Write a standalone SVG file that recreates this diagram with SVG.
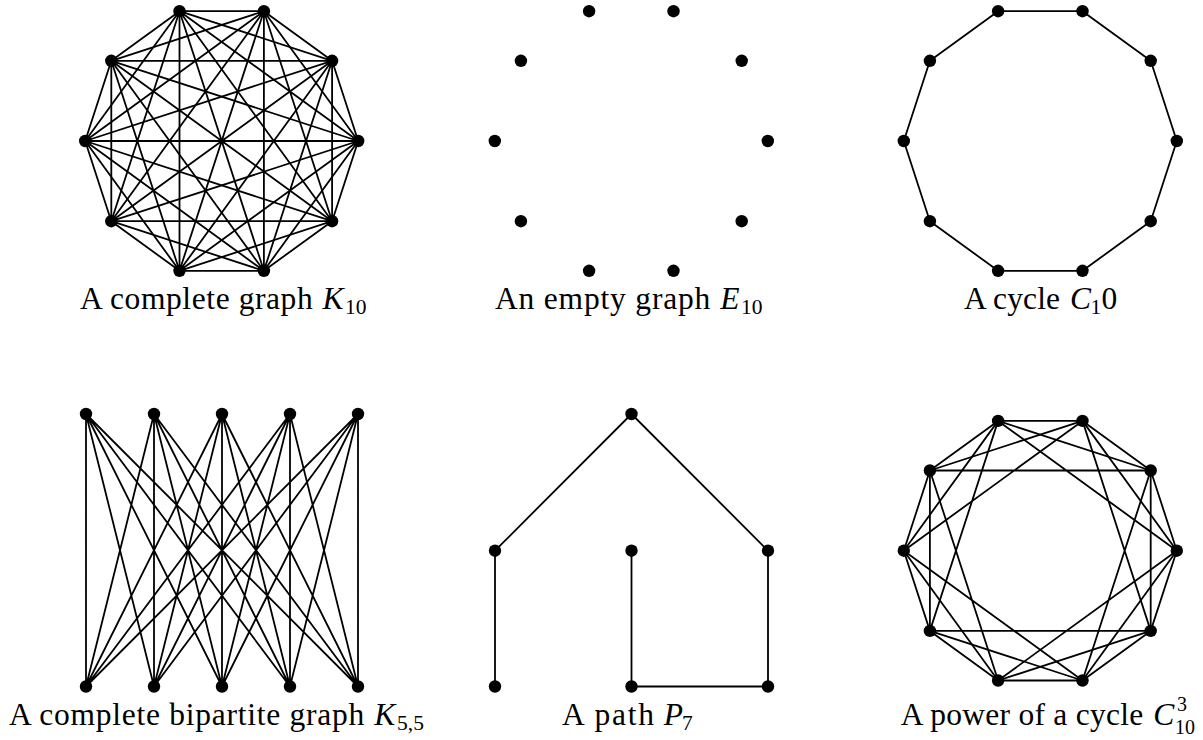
<svg xmlns="http://www.w3.org/2000/svg" width="1203" height="740" viewBox="0 0 1203 740">
<style>
.e{fill:none;stroke:#000;stroke-width:1.8;stroke-linejoin:round}
.n{fill:#000}
text{font-family:'Liberation Serif','DejaVu Serif','Noto Serif',serif;fill:#000}
.t{font-size:31.5px}
.i{font-size:31.5px;font-style:italic}
.s{font-size:21.5px}
.u{font-size:20px}
</style>
<rect width="1203" height="740" fill="#fff"/>
<g id="connectors">
<g id="k10-edges">
<polygon class="e" points="358.2,141 332.1,60.8 263.9,11.2 179.5,11.2 111.3,60.8 85.2,141 111.3,221.2 179.5,270.8 263.9,270.8 332.1,221.2"/>
<polygon class="e" points="358.2,141 263.9,11.2 111.3,60.8 111.3,221.2 263.9,270.8"/>
<polygon class="e" points="332.1,60.8 179.5,11.2 85.2,141 179.5,270.8 332.1,221.2"/>
<polygon class="e" points="358.2,141 179.5,11.2 111.3,221.2 332.1,221.2 263.9,11.2 85.2,141 263.9,270.8 332.1,60.8 111.3,60.8 179.5,270.8"/>
<polygon class="e" points="358.2,141 111.3,60.8 263.9,270.8 263.9,11.2 111.3,221.2"/>
<polygon class="e" points="332.1,60.8 85.2,141 332.1,221.2 179.5,11.2 179.5,270.8"/>
<path class="e" d="M358.2,141 L85.2,141 M332.1,60.8 L111.3,221.2 M263.9,11.2 L179.5,270.8 M179.5,11.2 L263.9,270.8 M111.3,60.8 L332.1,221.2"/>
</g>
<g id="c10-edges">
<polygon class="e" points="1176.8,141 1150.7,60.8 1082.5,11.2 998.1,11.2 929.9,60.8 903.8,141 929.9,221.2 998.1,270.8 1082.5,270.8 1150.7,221.2"/>
</g>
<g id="k55-edges">
<path class="e" d="M86,686.5 L86,414 L154,686.5 M222,686.5 L86,414 L290,686.5 M358,686.5 L86,414
M86,686.5 L154,414 L154,686.5 M222,686.5 L154,414 L290,686.5 M358,686.5 L154,414
M86,686.5 L222,414 L154,686.5 M222,686.5 L222,414 L290,686.5 M358,686.5 L222,414
M86,686.5 L290,414 L154,686.5 M222,686.5 L290,414 L290,686.5 M358,686.5 L290,414
M86,686.5 L358,414 L154,686.5 M222,686.5 L358,414 L290,686.5 M358,686.5 L358,414"/>
</g>
<g id="p7-edges">
<path class="e" d="M495,686.5 L495,550.7 L631.5,414 L768,550.7 L768,686.5 L631.5,686.5 L631.5,550.7"/>
</g>
<g id="c103-edges">
<polygon class="e" points="1176.8,550.7 1150.7,470.5 1082.5,420.9 998.1,420.9 929.9,470.5 903.8,550.7 929.9,630.9 998.1,680.5 1082.5,680.5 1150.7,630.9"/>
<polygon class="e" points="1176.8,550.7 1082.5,420.9 929.9,470.5 929.9,630.9 1082.5,680.5"/>
<polygon class="e" points="1150.7,470.5 998.1,420.9 903.8,550.7 998.1,680.5 1150.7,630.9"/>
<polygon class="e" points="1176.8,550.7 998.1,420.9 929.9,630.9 1150.7,630.9 1082.5,420.9 903.8,550.7 1082.5,680.5 1150.7,470.5 929.9,470.5 998.1,680.5"/>
</g>
</g>
<g id="k10">
<g id="k10-v0"><circle class="n" cx="358.2" cy="141" r="6.2"/></g>
<g id="k10-v1"><circle class="n" cx="332.1" cy="60.8" r="6.2"/></g>
<g id="k10-v2"><circle class="n" cx="263.9" cy="11.2" r="6.2"/></g>
<g id="k10-v3"><circle class="n" cx="179.5" cy="11.2" r="6.2"/></g>
<g id="k10-v4"><circle class="n" cx="111.3" cy="60.8" r="6.2"/></g>
<g id="k10-v5"><circle class="n" cx="85.2" cy="141" r="6.2"/></g>
<g id="k10-v6"><circle class="n" cx="111.3" cy="221.2" r="6.2"/></g>
<g id="k10-v7"><circle class="n" cx="179.5" cy="270.8" r="6.2"/></g>
<g id="k10-v8"><circle class="n" cx="263.9" cy="270.8" r="6.2"/></g>
<g id="k10-v9"><circle class="n" cx="332.1" cy="221.2" r="6.2"/></g>
</g>
<g id="e10">
<g id="e10-v0"><circle class="n" cx="767.8" cy="141" r="6.2"/></g>
<g id="e10-v1"><circle class="n" cx="741.7" cy="60.8" r="6.2"/></g>
<g id="e10-v2"><circle class="n" cx="673.5" cy="11.2" r="6.2"/></g>
<g id="e10-v3"><circle class="n" cx="589.1" cy="11.2" r="6.2"/></g>
<g id="e10-v4"><circle class="n" cx="520.9" cy="60.8" r="6.2"/></g>
<g id="e10-v5"><circle class="n" cx="494.8" cy="141" r="6.2"/></g>
<g id="e10-v6"><circle class="n" cx="520.9" cy="221.2" r="6.2"/></g>
<g id="e10-v7"><circle class="n" cx="589.1" cy="270.8" r="6.2"/></g>
<g id="e10-v8"><circle class="n" cx="673.5" cy="270.8" r="6.2"/></g>
<g id="e10-v9"><circle class="n" cx="741.7" cy="221.2" r="6.2"/></g>
</g>
<g id="c10">
<g id="c10-v0"><circle class="n" cx="1176.8" cy="141" r="6.2"/></g>
<g id="c10-v1"><circle class="n" cx="1150.7" cy="60.8" r="6.2"/></g>
<g id="c10-v2"><circle class="n" cx="1082.5" cy="11.2" r="6.2"/></g>
<g id="c10-v3"><circle class="n" cx="998.1" cy="11.2" r="6.2"/></g>
<g id="c10-v4"><circle class="n" cx="929.9" cy="60.8" r="6.2"/></g>
<g id="c10-v5"><circle class="n" cx="903.8" cy="141" r="6.2"/></g>
<g id="c10-v6"><circle class="n" cx="929.9" cy="221.2" r="6.2"/></g>
<g id="c10-v7"><circle class="n" cx="998.1" cy="270.8" r="6.2"/></g>
<g id="c10-v8"><circle class="n" cx="1082.5" cy="270.8" r="6.2"/></g>
<g id="c10-v9"><circle class="n" cx="1150.7" cy="221.2" r="6.2"/></g>
</g>
<g id="k55">
<g id="k55-t0"><circle class="n" cx="86" cy="414" r="6.2"/></g>
<g id="k55-t1"><circle class="n" cx="154" cy="414" r="6.2"/></g>
<g id="k55-t2"><circle class="n" cx="222" cy="414" r="6.2"/></g>
<g id="k55-t3"><circle class="n" cx="290" cy="414" r="6.2"/></g>
<g id="k55-t4"><circle class="n" cx="358" cy="414" r="6.2"/></g>
<g id="k55-b0"><circle class="n" cx="86" cy="686.5" r="6.2"/></g>
<g id="k55-b1"><circle class="n" cx="154" cy="686.5" r="6.2"/></g>
<g id="k55-b2"><circle class="n" cx="222" cy="686.5" r="6.2"/></g>
<g id="k55-b3"><circle class="n" cx="290" cy="686.5" r="6.2"/></g>
<g id="k55-b4"><circle class="n" cx="358" cy="686.5" r="6.2"/></g>
</g>
<g id="p7">
<g id="p7-v0"><circle class="n" cx="495" cy="686.5" r="6.2"/></g>
<g id="p7-v1"><circle class="n" cx="495" cy="550.7" r="6.2"/></g>
<g id="p7-v2"><circle class="n" cx="631.5" cy="414" r="6.2"/></g>
<g id="p7-v3"><circle class="n" cx="768" cy="550.7" r="6.2"/></g>
<g id="p7-v4"><circle class="n" cx="768" cy="686.5" r="6.2"/></g>
<g id="p7-v5"><circle class="n" cx="631.5" cy="686.5" r="6.2"/></g>
<g id="p7-v6"><circle class="n" cx="631.5" cy="550.7" r="6.2"/></g>
</g>
<g id="c103">
<g id="c103-v0"><circle class="n" cx="1176.8" cy="550.7" r="6.2"/></g>
<g id="c103-v1"><circle class="n" cx="1150.7" cy="470.5" r="6.2"/></g>
<g id="c103-v2"><circle class="n" cx="1082.5" cy="420.9" r="6.2"/></g>
<g id="c103-v3"><circle class="n" cx="998.1" cy="420.9" r="6.2"/></g>
<g id="c103-v4"><circle class="n" cx="929.9" cy="470.5" r="6.2"/></g>
<g id="c103-v5"><circle class="n" cx="903.8" cy="550.7" r="6.2"/></g>
<g id="c103-v6"><circle class="n" cx="929.9" cy="630.9" r="6.2"/></g>
<g id="c103-v7"><circle class="n" cx="998.1" cy="680.5" r="6.2"/></g>
<g id="c103-v8"><circle class="n" cx="1082.5" cy="680.5" r="6.2"/></g>
<g id="c103-v9"><circle class="n" cx="1150.7" cy="630.9" r="6.2"/></g>
</g>
<g id="labels">
<g id="label-k10">
<text class="t" x="80" y="309.3" textLength="232.7">A complete graph</text>
<text class="i" x="322.6" y="309.3">K</text>
<text class="s" x="345" y="314">10</text>
</g>
<g id="label-e10">
<text class="t" x="495" y="309.3" textLength="215.3">An empty graph</text>
<text class="i" x="720.3" y="309.3">E</text>
<text class="s" x="741" y="314">10</text>
</g>
<g id="label-c10">
<text class="t" x="964" y="309.3" textLength="96">A cycle</text>
<text class="i" x="1069.9" y="309.3">C</text>
<text class="s" x="1090.5" y="314">1</text>
<text class="t" x="1101.6" y="309.3">0</text>
</g>
<g id="label-k55">
<text class="t" x="9" y="725" textLength="355.3">A complete bipartite graph</text>
<text class="i" x="374.2" y="725">K</text>
<text class="s" x="397" y="729.7">5,5</text>
</g>
<g id="label-p7">
<text class="t" x="562" y="725" textLength="91.9">A path</text>
<text class="i" x="663.8" y="725">P</text>
<text class="s" x="682" y="729.7">7</text>
</g>
<g id="label-c103">
<text class="t" x="900.7" y="725" textLength="242.6">A power of a cycle</text>
<text class="i" x="1153.2" y="725">C</text>
<text class="u" x="1177" y="711">3</text>
<text class="u" x="1175" y="734">10</text>
</g>
</g>
</svg>
